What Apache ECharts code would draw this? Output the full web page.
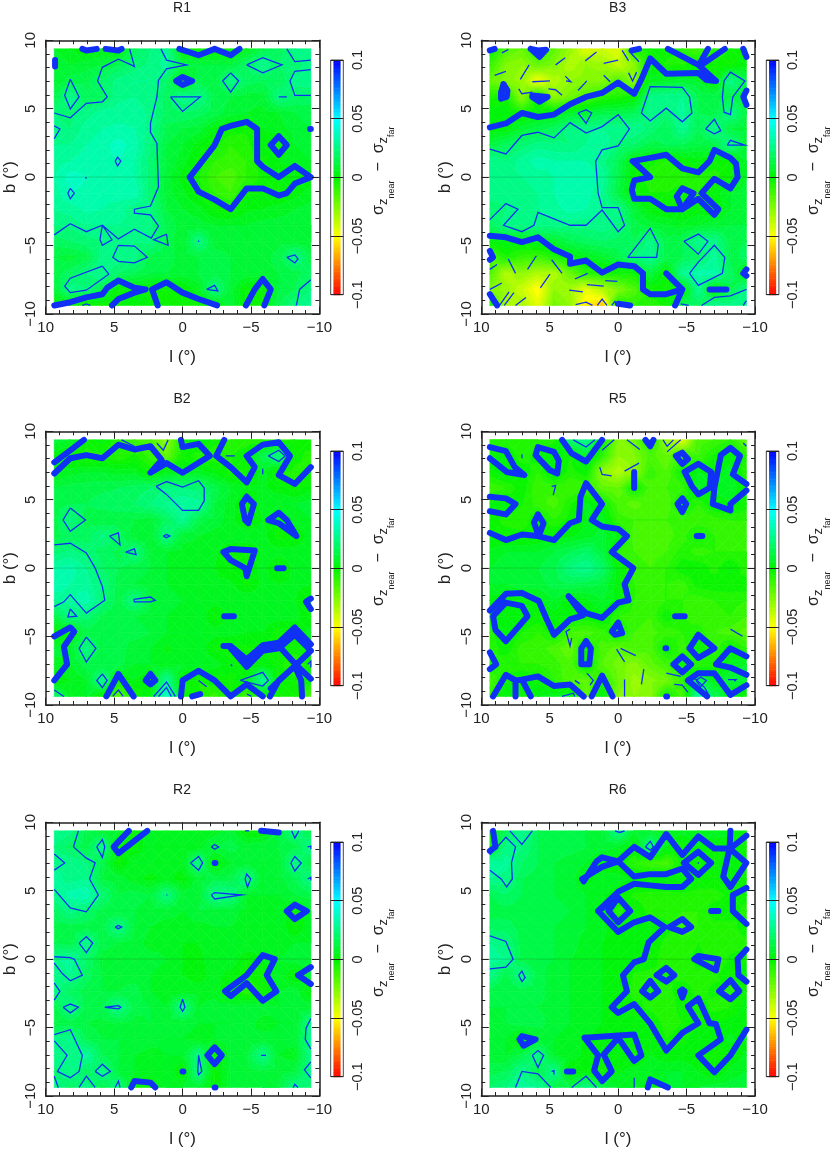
<!DOCTYPE html>
<html>
<head>
<meta charset="utf-8">
<title>sigma z near - far maps</title>
<script src="https://cdn.jsdelivr.net/npm/echarts@6/dist/echarts.min.js"></script>
<style>
html, body { margin: 0; padding: 0; background: #fff; }
#main { width: 830px; height: 1149px; }
</style>
</head>
<body>
<div id="main"></div>
<script>
// values in units of 0.001, rows from b=+9.375 down to b=-9.375, columns from l=+9.375 to l=-9.375
var r1Grid = [
  [8,4,-1,4,-1,18,24,28,-2,-2,-2,-2,4,14,18,25,28],
  [10,8,10,12,16,22,25,30,14,12,12,12,20,28,20,22,26],
  [8,14,15,20,26,28,28,20,-2,14,12,27,18,16,16,26,28],
  [14,28,16,18,27,28,26,18,27,26,14,12,10,10,25,20,18],
  [24,22,26,30,30,30,27,18,20,18,14,10,8,6,8,12,14],
  [25,24,30,32,33,32,26,15,12,10,2,-2,-3,4,6,10,12],
  [28,28,32,34,38,34,24,12,8,2,-3,-8,-6,3,-4,8,10],
  [30,32,34,34,36,32,22,12,6,-1,-8,-10,-8,-1,4,6,8],
  [32,38,36,34,34,32,22,10,2,-4,-12,-15,-8,-3,0,2,0],
  [30,36,35,32,34,35,22,10,5,-2,-8,-12,-1,0,-1,2,6],
  [28,30,33,32,30,25,24,12,8,6,-1,-3,3,4,6,8,10],
  [24,25,28,28,28,28,25,15,10,10,8,8,8,10,10,10,8],
  [18,20,22,24,25,24,25,15,8,25,10,10,8,10,10,10,8],
  [12,10,14,26,26,26,14,14,10,12,14,12,10,10,14,26,14],
  [14,18,24,28,20,16,12,12,10,12,14,12,10,10,12,14,18],
  [10,26,24,14,-1,-1,-1,-3,-1,6,25,10,-1,-2,12,16,24],
  [-1,-2,-4,-2,-1,4,0,-4,-3,-1,0,10,-1,-1,16,24,28]
];
var b3Grid = [
  [0,-15,-20,-2,-18,-30,-45,-40,-45,-5,-2,-1,-8,-12,-8,-3,1],
  [-10,-25,-28,-20,-25,-35,-28,-30,-38,-28,2,-5,-5,0,-3,-2,2],
  [-20,-26,-30,-48,-35,-28,-26,-25,-15,-28,6,8,10,8,-1,27,14],
  [-5,-3,-28,0,-28,-22,-15,-8,-5,-2,26,27,28,15,14,14,10],
  [3,3,-4,1,2,8,10,14,14,16,28,22,30,16,14,26,12],
  [1,1,10,14,18,26,27,28,28,28,22,16,28,16,27,12,10],
  [12,18,22,26,25,24,28,32,22,20,14,16,16,12,14,27,10],
  [28,24,30,34,32,32,32,26,16,0,-3,-6,-1,2,-2,-2,8],
  [28,28,28,30,32,34,36,30,14,0,-6,-6,-6,-6,-6,-1,8],
  [26,24,26,28,32,36,34,28,12,-1,-4,-4,-2,-6,2,8,10],
  [22,24,26,28,30,34,32,27,26,10,1,-1,-2,2,-2,8,10],
  [18,26,25,26,26,25,25,27,24,14,10,8,6,8,10,12,12],
  [1,4,2,6,8,15,18,20,18,16,26,14,16,28,26,14,16],
  [-15,-5,-10,-12,-6,0,4,8,14,24,28,14,16,18,30,14,18],
  [-15,-35,-28,-35,-35,-20,-8,-5,-3,-2,12,-2,28,34,33,18,0],
  [-25,-30,-40,-52,-28,-32,-45,-35,-25,-15,-2,-2,-2,28,-2,15,26],
  [-2,-35,-32,-45,-22,-28,-55,-62,-3,-8,-6,-3,16,18,28,26,28]
];
var b2Grid = [
  [10,8,-2,2,-8,-12,-15,-28,-2,4,-2,-8,-8,-8,-6,-4,0],
  [2,-2,-6,-5,-8,-3,-10,-20,-2,-6,-8,-4,1,15,26,-2,-6],
  [2,6,8,8,6,6,-2,4,5,6,2,-5,-4,6,-4,-6,-4],
  [12,14,14,15,16,18,20,25,24,22,14,8,4,5,2,-2,2],
  [14,16,16,18,18,20,24,28,32,30,12,6,-2,6,8,8,10],
  [14,25,14,12,14,12,10,18,28,14,10,6,-2,4,0,6,8],
  [14,18,18,25,18,10,8,25,10,8,6,8,8,6,-2,0,6],
  [22,25,22,18,15,25,10,8,6,6,5,-1,-2,5,6,6,6],
  [32,34,28,20,16,14,12,8,6,6,4,0,0,6,-1,5,6],
  [36,32,30,24,14,12,10,8,6,6,5,5,-1,5,4,5,4],
  [28,30,35,22,14,25,12,10,8,8,6,6,8,6,5,4,0],
  [14,25,22,15,14,12,10,8,6,8,-1,6,6,6,6,6,-1],
  [-1,-1,14,12,12,14,12,8,8,8,6,6,4,4,-2,-2,6],
  [10,8,26,12,14,10,8,3,6,8,-1,-2,-1,-2,-2,-1,-2],
  [6,8,14,12,14,8,8,6,8,8,6,1,-2,2,-2,-10,-1],
  [-1,4,8,28,-2,4,-1,28,-1,-4,-2,-1,4,30,-3,-2,-1],
  [22,6,8,-2,-18,-4,4,40,-2,-4,-10,-1,-12,-2,-3,-2,-14]
];
var r5Grid = [
  [-8,-8,-8,-8,-6,22,28,-1,-25,-22,-2,-30,-45,-14,-12,-8,-20],
  [-1,2,-8,-1,4,-4,8,-8,-28,-25,-14,-20,-10,-12,-3,2,-5],
  [-1,4,1,-8,4,-6,-1,-28,-35,-28,-10,-16,-1,4,2,6,-8],
  [-12,-8,-1,-12,-10,-12,-12,-18,-20,-1,-14,-12,-10,8,5,8,-2],
  [1,3,-4,-10,-14,-5,5,-1,-14,-18,-14,-16,0,-8,1,3,-2],
  [-1,-6,-8,1,-8,-2,4,6,-10,-12,-12,-12,-10,-12,-10,-8,-8],
  [-1,-1,-2,0,1,3,6,10,3,-14,-16,-14,-10,-1,-8,-10,-10],
  [5,8,8,8,12,16,20,12,-8,-12,-14,-12,-6,-10,-8,-8,-8],
  [8,10,10,12,15,24,28,20,2,-10,-12,-8,-1,0,-6,1,-8],
  [8,8,10,10,14,16,14,12,1,-8,-10,-8,-10,-2,-1,-2,-1],
  [2,1,3,2,8,0,3,8,2,-8,-10,-8,-8,-10,-8,-6,-8],
  [1,3,2,-1,2,0,-1,2,-8,-10,-12,-1,-8,-10,-10,-8,-12],
  [-6,3,-4,-8,-1,-12,-14,-10,-1,-12,-14,-10,-8,-6,-12,-14,-18],
  [-8,-1,-10,-10,-14,-20,-1,-14,-18,-14,-14,-1,-10,1,-10,0,-8],
  [-1,-8,-8,-8,-10,-15,2,-16,-22,-26,-18,-12,-1,-8,-6,6,8],
  [-14,-1,2,-1,-8,-16,-18,-6,-20,-30,-26,-22,-10,18,2,12,8],
  [-10,4,-2,4,6,8,-22,4,-25,-28,-26,-1,-14,32,16,2,-1]
];
var r2Grid = [
  [28,26,14,10,8,-1,8,6,8,6,6,10,-1,-1,12,26,14],
  [24,18,14,27,-1,-1,8,6,4,6,12,14,10,12,12,14,26],
  [26,28,24,14,-1,8,8,6,6,26,-1,8,10,8,10,26,12],
  [30,26,28,12,10,6,2,6,1,10,14,14,25,8,10,16,26],
  [26,34,36,22,12,14,12,25,10,10,27,26,8,8,8,12,14],
  [18,26,20,14,12,12,10,10,8,12,10,10,6,6,8,-2,8],
  [14,14,14,14,26,12,8,6,6,6,8,8,6,6,8,-1,8],
  [16,14,27,14,12,10,6,6,4,4,6,8,8,6,6,8,8],
  [27,30,20,10,8,10,10,8,4,3,6,8,0,4,8,10,12],
  [24,28,18,12,10,10,8,6,4,2,6,2,-3,-2,8,-1,10],
  [26,18,14,12,12,14,8,4,6,6,6,-1,-8,-3,8,10,0],
  [14,26,14,16,26,14,12,8,26,8,10,10,12,10,8,10,10],
  [12,14,12,10,12,10,12,10,10,8,8,8,10,6,8,8,26],
  [26,28,16,12,12,12,10,8,8,6,8,10,8,10,8,10,27],
  [28,26,30,16,12,8,6,8,8,25,-3,10,12,26,8,6,26],
  [22,28,18,26,12,8,6,8,-1,26,-1,10,10,12,10,12,26],
  [26,18,26,14,26,-1,-1,8,8,10,-1,10,10,12,12,26,20]
];
var r6Grid = [
  [-2,18,28,16,14,14,12,10,26,8,8,6,6,6,8,6,-1],
  [-1,26,24,16,14,14,12,10,8,0,26,4,-3,4,-2,0,-1],
  [30,30,20,16,12,10,8,1,0,-8,-12,-14,-2,-3,-1,3,-4],
  [28,26,16,14,12,10,2,6,6,3,3,3,2,-1,-1,3,-2],
  [16,20,16,14,12,10,8,5,1,-5,-6,-6,-5,-6,-6,-3,-2],
  [14,14,14,14,14,12,8,3,-6,0,-6,-8,-8,-8,-1,-1,-6],
  [18,18,14,12,12,10,8,5,1,2,2,-1,-12,-8,-6,-6,-1],
  [28,24,14,14,12,10,6,4,3,3,1,-6,-6,-4,-6,-6,-6],
  [30,28,14,12,12,8,6,4,3,2,-1,-8,-8,-2,-8,-3,-1],
  [26,14,26,14,10,8,6,4,3,-5,-6,-2,-6,-5,-5,-1,2],
  [14,12,14,14,10,8,6,4,2,-6,-2,-6,-1,-6,-3,-6,-2],
  [12,12,12,12,10,8,6,4,2,-3,-5,-8,-2,-1,-6,-4,3],
  [10,12,14,14,10,8,6,4,3,2,0,-6,-4,-1,0,2,2],
  [8,8,-2,8,8,6,3,3,4,3,3,-4,-1,3,1,5,1],
  [10,8,14,26,8,6,3,0,4,-3,4,1,2,0,-3,0,5],
  [14,16,27,14,27,-1,2,-5,3,6,8,8,8,4,-1,6,8],
  [20,24,30,28,14,14,26,14,8,8,-1,8,8,8,10,10,10]
];

// contours, vertices in grid steps [column, row] from l=+9.375, b=-9.375
var r1Thick = [
  [[0,0],[1,.2],[2,.5],[3,.7],[3.3,1.1],[4,1.55],[5,1.1],[5.7,1],[5,.8],[4,.4],[3.6,0]],
  [[6.45,0],[6.1,1],[7,1.45],[8,.8],[9,.4],[10.15,0]],
  [[11.95,0],[12.5,1],[13,1.65],[13.5,1],[13.1,0]],
  [[8.45,8],[10,10],[10.45,11],[11,11.2],[12,11.45],[12.65,11],[12.65,9],[13,8.65],[14,8],[15,8.7],[16,8],[15,7.6],[14.5,7],[14,6.85],[13,7.3],[12,7.3],[11,6],[10,6.6],[9,7.1],[8.45,8]],
  [[13.5,10],[14,10.55],[14.5,10],[14,9.4],[13.5,10]],
  [[7.8,16],[9,15.6],[10,16],[11,15.6],[11.55,16]],
  [[1.75,16],[2,15.9],[2.65,16]],
  [[3.2,16],[4,15.9],[4.2,16]],
  [[.05,15.3],[.05,14.9]],
  [[7.6,14],[8,14.25],[8.6,14],[8,13.75],[7.6,14]],
  [[15.95,11],[16,11]]
];
var r1Thin = [
  [[6.65,16],[7,15.3],[8.25,15],[7,14.75],[6.5,14.05],[6.4,13],[6,11.35],[6,10.8],[6.4,10.1],[6.5,7.4],[6,6.2],[5,6],[5,5.75],[6,5.65],[6.5,4.95],[6.05,4.2],[5,4.75],[4,4.15],[3,5],[2,4.6],[1,5.1],[0,4.4]],
  [[0,12],[1,11.7],[2,12.6],[3,12.7],[3.3,13],[2.7,14],[3,14.85],[4,15.35],[4.8,15],[5,14.9],[4.7,16]],
  [[1,14.1],[1.55,13],[1,12.25],[.65,13.1],[1,14.1]],
  [[7.25,13],[9.1,13],[8,12.1],[7.25,13]],
  [[11,14.5],[11.5,14],[11,13.3],[10.5,14],[11,14.5]],
  [[12,15],[13,15.45],[14.2,15],[13,14.5],[12,15]],
  [[14.5,16],[15,15.2],[16,15.3]],
  [[16,14.7],[15,14.6],[14.7,14],[15,13.1],[16,13.1]],
  [[14,13],[14.5,13]],
  [[0,11.2],[.35,11],[0,10.4]],
  [[3.8,9],[3.95,9.25],[4.15,9],[3.95,8.7],[3.8,9]],
  [[1.95,8],[2,8.1],[2.05,8],[2,7.9],[1.95,8]],
  [[1,7.3],[1.25,7],[1,6.65],[.85,7],[1,7.3]],
  [[3,5],[3.6,4.1],[3,3.75],[2.85,4.1],[3,5]],
  [[7,4.45],[7.1,3.75],[6.2,4.1],[7,4.45]],
  [[9,4.05],[9.05,4],[9,3.95],[8.95,4],[9,4.05]],
  [[4,3.75],[5,3.7],[5.8,3],[5,2.65],[4,2.75],[3.65,3],[4,3.75]],
  [[3,2.45],[3.4,1.95],[2,.95],[1,.8],[.65,1.2],[1,1.7],[3,2.45]],
  [[9.5,1],[10,1.25],[10.2,.9],[9.5,1]],
  [[14.5,3],[15,3.15],[15.2,2.9],[15,2.65],[14.5,3]],
  [[16,1.6],[15.3,1],[15.1,0]],
  [[1.75,0],[2,.1],[2.25,0]]
];

var b3Thick = [
  [[0,11.1],[1,11.35],[2,12],[3,11.75],[4,11.9],[5,12.55],[6,13],[7,13.25],[8,13.9],[9,13.2],[9.45,14.1],[10,15.4],[11,14.45],[13,14.5],[13.5,14.05],[14.1,14]],
  [[11.1,16],[13,15],[14.1,14]],
  [[13.6,16],[13.1,15.1]],
  [[14.65,16],[13.2,15]],
  [[0,4.35],[1,4.25],[2,3.95],[3,4.25],[4,3.5],[5,3.05],[5,2.6],[6,2.8],[7,2.05],[8,2.55],[9,2.45],[9.55,2],[9.55,1],[10,.7],[11,.7],[12,1],[11,2]],
  [[12,1],[11.55,0]],
  [[8.9,9],[10,9.2],[11,9.4],[12,8.55],[13,8.3],[13.7,9],[14,9.7],[15,9.2],[15.35,8.85],[15.45,8],[15,7.3],[14,7.9],[13.2,7],[14.25,6],[14,5.65],[13,6.65],[12,6],[11,6],[10,6.65],[9,6.65],[8.85,7.2],[9,7.8],[10,8],[9.3,8.65],[8.9,9]],
  [[12,6],[11.65,6.8],[12,7.3],[12.7,7],[12,6]],
  [[.85,13.8],[1.1,13.4],[1.05,13],[.7,12.9],[.7,13.3],[.85,13.8]],
  [[2.65,13.1],[3.6,13],[3.1,12.7],[2.65,13]],
  [[2.55,16],[3.1,15.5],[3.5,15.95],[3,15.9],[2.55,16]],
  [[0,15.9],[.3,16]],
  [[8.85,15.9],[9.3,16]],
  [[15.8,16],[16,15.5]],
  [[16,13.4],[15.8,13],[16,12.5]],
  [[0,3.4],[.2,3],[0,2.85]],
  [[16,2.25],[15.8,2],[16,1.85]],
  [[0,.7],[.45,0]],
  [[13.7,1],[14.75,1]],
  [[8,.1],[8.75,0]]
];
var b3Thin = [
  [[0,9.75],[1,9.45],[2,10.6],[3,10.8],[4,10.45],[5,11.4],[6,10.75],[7,11.15],[8,11.9],[8.7,11],[8,9.95],[7,9.7],[6.6,9],[6.75,7],[7,6.1],[8,6.1],[8.4,5],[8,4.6],[7,5.95],[6,5],[5,5],[4,5.4],[3,5.8],[2.75,5],[2,4.6],[.85,5],[1.75,6],[1,6.35],[0,5.35]],
  [[5.5,12],[6,12.2],[6.35,12],[6,11.35],[5.5,12]],
  [[10,13.65],[12,13.6],[12.45,13],[12.6,12],[12,11.45],[11,12.3],[10,11.5],[9.45,12],[10,13.65]],
  [[14.6,14],[15,14.55],[15.9,14],[15.15,13],[15,11.9],[14.6,12.05],[14.5,13],[14.6,14]],
  [[13.45,11],[14,11.6],[14.4,10.9],[14,10.7],[13.45,11]],
  [[14.8,10],[15,10.3],[15.9,10],[14.8,10]],
  [[8.6,3],[10,4.8],[10.5,3.8],[10.4,3],[8.6,3]],
  [[12.1,4],[13,4.45],[13.6,4],[13,3.2],[12.1,4]],
  [[12.45,2],[13,2.7],[14,3.75],[14.65,3],[14.5,2],[13,1.25],[12.45,2]],
  [[13.2,0],[14,.5],[15,.6],[16,1]],
  [[15.8,0],[16,.3]],
  [[11.9,.1],[12.4,0]],
  [[.3,14.35],[1,14.6]],
  [[.75,15.75],[1.15,15.95]],
  [[1.9,14.1],[2.45,15]],
  [[2.65,13.95],[3.75,14]],
  [[4.7,14.3],[5.05,13.95],[4.75,14]],
  [[4.1,15],[4.7,15.45]],
  [[1.8,13.5],[2,13.2],[2.65,13.3]],
  [[3.65,13.5],[4.1,13.45],[4.5,13.1]],
  [[5.95,15.25],[6.65,15.8]],
  [[7.1,15.1],[8,15.3]],
  [[5.5,13.4],[6.05,14]],
  [[7.1,14.35],[7.5,13.95]],
  [[8.65,14.5],[8.9,14],[9.15,14.55]],
  [[8.25,15.9],[8.65,15.25]],
  [[8.65,15.9],[9.3,15.2]],
  [[0,2.25],[.45,2.55]],
  [[1.15,2.9],[1.6,2]],
  [[2.35,2.25],[2.9,3.1]],
  [[3.85,2.85],[4.5,2]],
  [[3.15,1.1],[3.75,1.95]],
  [[0,1],[.75,1.4]],
  [[.6,0],[1.2,.85]],
  [[.9,0],[1.5,.8]],
  [[1.6,0],[2.25,.5]],
  [[5.3,1.65],[6.1,2]],
  [[6.05,1.3],[7.1,1.2]],
  [[7.2,1.55],[7.95,1.5]],
  [[4.95,.95],[5.8,.85]],
  [[5.35,.05],[6,.2],[6.4,0]],
  [[6.7,0],[7,.4],[7.3,0]],
  [[7.6,0],[7.8,.25],[7.95,0]]
];

var b2Thick = [
  [[0,13.9],[1,14.85],[2,15.05],[3,14.85],[4,15.7],[5,15.4],[6,15.6],[6.7,14.75],[6,13.95],[7,14.55],[8,13.95],[9.7,15],[9,15.75],[8,15.55],[7.9,16]],
  [[0,14.6],[1,15.35],[1.85,16]],
  [[10.6,16],[10.1,15],[11,14.3],[12,13.35],[12.5,14.3],[12,15],[13,15.7],[14,15.85],[14.7,15],[14,13.8],[15,13.25],[16,14.3]],
  [[0,3.75],[1,4.3],[1.25,4.05],[.6,3.1],[.8,2],[0,1]],
  [[3.25,0],[4,1.4],[4.95,0]],
  [[6,1.4],[6.3,1],[6,.75],[5.7,1],[6,1.4]],
  [[7.9,0],[8,1],[9,1.6],[10,1],[11,0],[12,.75],[13,0]],
  [[8.6,0],[9.1,.15]],
  [[10.55,3.15],[11,3.15],[12,2.3],[13,3.2],[14,3.35],[15,4.3],[16,3.25]],
  [[11,3],[12,1.85],[13,2.85],[14,3],[15,3.85],[16,2.85]],
  [[16,2.85],[15,1.9],[14,1],[13.45,0]],
  [[16,1.1],[15,2.05],[14.05,3.1]],
  [[15,1.9],[15.4,1],[15.45,0]],
  [[15,1.9],[13.5,.5]],
  [[12,12.45],[12.45,12],[12.1,10.8],[11.9,11],[11.7,12],[12,12.45]],
  [[13.35,11],[14,11.45],[14.5,11],[15.1,10],[14,10.8],[13.35,11]],
  [[10.55,9],[11,9.2],[12.5,9.1],[12,7.5],[11.9,8],[11,8.5],[10.55,9]],
  [[13.9,8],[14.3,8]],
  [[16,6.1],[15.7,5.9],[16,5.45]],
  [[10.6,5],[11.2,5]]
];
var b2Thin = [
  [[0,9.45],[1,9.55],[2,8.95],[2.55,8],[3,6.85],[3.15,6],[2,5.2],[1,6.35],[.6,5.9],[0,5.6]],
  [[1,11.75],[1.95,11],[1,10.3],[.55,11],[1,11.75]],
  [[3.45,10],[4,10.2],[4.1,9.45],[3.45,10]],
  [[4.45,9],[5,9.2],[5.1,8.85],[4.45,9]],
  [[6.8,10],[7,10.1],[7.2,10],[7,9.9],[6.8,10]],
  [[6.35,13.1],[7,13.4],[8,13.05],[9,13.45],[9.35,13],[9.35,12.2],[9,11.6],[8,11.6],[7,12.6],[6.35,13.1]],
  [[4.95,6.05],[6,6.2],[6.3,6],[6,5.9],[5,5.9],[4.95,6.05]],
  [[1,5.45],[1.4,5],[.85,4.95],[1,5.45]],
  [[2,3.7],[2.6,3],[2,2.15],[1.55,3],[2,3.7]],
  [[3,1.4],[3.3,1],[3,.55],[2.65,1],[3,1.4]],
  [[0,.4],[.6,0]],
  [[3.65,0],[4,.4],[4.3,0]],
  [[6.2,0],[7,.9],[7.55,0]],
  [[6.5,0],[7,.55],[7.3,0]],
  [[9,1],[9.5,.6]],
  [[11.6,1],[13,1.5],[13.35,1],[13,.65],[11.6,1]],
  [[13.35,15],[14,15.35],[14.4,15],[14,14.65],[13.35,15]],
  [[10.7,15],[11.25,15]],
  [[4.2,16],[5,15.6]],
  [[6.4,15.8],[6.8,15.35],[7.1,16]],
  [[13,14.2],[13,13.85]],
  [[11,2],[11.1,1.9]],
  [[15.8,2],[16,2.2],[16,1.8]],
  [[12,.15],[12.3,0]]
];

var r5Thick = [
  [[0,15.55],[1,15.3],[1.55,14.3],[2.15,13.8],[1.05,14],[0,14.85]],
  [[3,15.55],[4,15.25],[4.3,14.7],[4.2,13.9],[3.75,14.1],[2.85,15.05],[3,15.55]],
  [[4.5,16],[5.1,15.15],[6,14.65],[7,16]],
  [[9,14],[9,13]],
  [[9.7,16],[10,15.6],[10.2,16]],
  [[11.6,15],[12,15.2],[12.35,14.8],[12,14.5],[11.6,15]],
  [[12.15,14],[13,14.5],[13.8,14],[13.7,13],[13,12.6],[12.6,13.1],[12.15,14]],
  [[16,13.25],[15.15,13.85],[15.6,15],[15,15.5],[14.4,15.05],[14,13],[13.9,12],[15,11.6],[15,12],[16,12.85]],
  [[12,12.35],[12.25,12],[12,11.5],[11.7,12],[12,12.35]],
  [[12.9,10],[13.25,10]],
  [[0,12.45],[1,12.35],[1.6,12],[1,11.35],[0,11.55]],
  [[0,10.2],[1,9.75],[2,10.1],[3,10],[4,9.75],[5,10.8],[5.55,11],[5.65,12.45],[6,13.3],[6.35,12.85],[7,12],[6.35,11],[7,10.6],[8,10.45],[8.55,10],[7.6,9],[8.95,8],[8.4,7],[8.65,6],[8,5.85],[7,4.9],[6,5.2],[4.9,6.25],[5.8,5.05],[5,4.8],[4,3.85],[3.55,4.8],[3.05,5.95],[2,6.45],[1,6.4],[0,5.35]],
  [[3,11.35],[3.35,10.8],[3.05,10],[2.75,10.85],[3,11.35]],
  [[1,5.85],[2,5.65],[2.35,5],[1,3.45],[.35,4.15],[.2,5],[1,5.85]],
  [[8,4.6],[8.25,3.95],[7.8,3.85],[7.6,4.05],[8,4.6]],
  [[11.55,5],[12.15,5]],
  [[10.95,3],[11,3]],
  [[12.45,3],[13,3.85],[14,3],[13,2.4],[12.45,3]],
  [[11.45,2],[12,2.5],[12.55,2],[12,1.5],[11.45,2]],
  [[16,2.5],[15,3],[14.1,2],[15,1.8],[16,1.35]],
  [[12.35,1],[13,1.45],[14,1.45],[15,.1],[16,.7]],
  [[12.35,1],[13.55,0]],
  [[0,2.75],[.4,2],[0,1.7]],
  [[.2,0],[1,1.35],[1.6,1],[1.6,0]],
  [[1.6,1],[2,1.05],[2.55,0]],
  [[2,1.05],[3,1.25],[4,.65],[5,.75],[5.85,0]],
  [[6.35,0],[7,1.3],[7.65,0]],
  [[6,3.45],[6.3,3],[6.2,2],[5.7,2],[5.7,3],[6,3.45]],
  [[11,0],[11.05,0]]
];
var r5Thin = [
  [[5.2,16],[6,15.55],[6.55,16]],
  [[7,15.35],[7.75,16]],
  [[8.55,16],[9.35,15.4]],
  [[10.8,16],[11.05,15.6],[11.45,16]],
  [[11.05,15.25],[11.9,16]],
  [[6.85,14.3],[7,13.85],[7.6,13.75]],
  [[8.4,14.05],[9.3,14.55]],
  [[3.85,13.1],[4.1,13.15],[3.95,12.55]],
  [[2,15.1],[2,14.85]],
  [[15.8,15.8],[16,15.6]],
  [[15,4.2],[15.75,3.75]],
  [[5,4.2],[4.75,4.05],[5,3.15],[5.1,3.65]],
  [[7.9,2.95],[8.4,2.15]],
  [[8.15,3],[9.1,2.55]],
  [[9.6,1.7],[9.45,.75]],
  [[8.4,1.05],[8.4,0]],
  [[6.05,1.45],[6.45,1],[6.25,.7]],
  [[5.3,1],[5.6,.8]],
  [[11,1.45],[11.9,1.25]],
  [[11.5,.75],[12,.7],[12.35,.25]],
  [[12.65,1.25],[13.4,.55],[13.7,0]],
  [[14.85,1.05],[15.35,1.05],[15.25,.95]],
  [[4.5,0],[5.2,.2],[5.3,0]],
  [[12.85,1],[13.15,1.2],[13.5,1],[13.15,.6],[12.85,1]]
];

var r2Thick = [
  [[4.65,16],[3.7,15],[4,14.6],[5.8,16]],
  [[12.9,16],[14,15.9]],
  [[10,14],[10.05,14]],
  [[14.5,11],[15,11.4],[15.75,11],[15,10.5],[14.5,11]],
  [[16,7.5],[15.2,7],[16,6.45]],
  [[10.65,6],[12,7],[13,8.25],[13.75,8],[13.25,7],[13.85,6],[13,5.4],[12,6.5],[11,5.7],[10.65,6]],
  [[9.55,2],[10,2.5],[10.45,2],[10,1.45],[9.55,2]],
  [[8,1],[8.05,1]],
  [[10,0],[10.05,0]],
  [[4.8,0],[5,.4],[6,.3],[6.3,0]]
];
var r2Thin = [
  [[1.5,16],[1.2,15],[2,14.3],[2.55,14],[2.2,13],[2.75,12],[2,10.95],[1,11.2],[0,12.35]],
  [[0,14.55],[.65,14],[0,13.55]],
  [[2.65,15],[3,15.45],[3.15,15],[3,14.35],[2.65,15]],
  [[1.55,9],[2,9.4],[2.4,9],[2,8.4],[1.55,9]],
  [[3.8,10],[4,10.1],[4.2,10],[4,9.9],[3.8,10]],
  [[0,8.15],[1,8.1],[1.25,8],[1.75,7],[1,6.65],[.5,7.1],[0,7.75]],
  [[0,6.5],[.35,6],[0,5.45]],
  [[.55,5],[1,5.2],[1.5,5],[1,4.65],[.55,5]],
  [[3.15,5],[4,5.1],[4.15,5],[4,4.9],[3.15,5]],
  [[8,5.5],[8.15,5],[8,4.75],[7.85,5],[8,5.5]],
  [[0,3.3],[1,3.6],[1.75,2],[1.55,1],[1,.6],[.2,1],[.8,2],[0,2.9]],
  [[2.55,1],[3,1.45],[3.5,1],[3,.7],[2.55,1]],
  [[1.55,0],[2,.7],[2.55,0]],
  [[0,.7],[.25,0]],
  [[3.8,0],[4,.4],[4.1,0]],
  [[9,2],[9.2,1],[9,.8],[8.95,1],[9,2]],
  [[12.9,2],[13.2,2]],
  [[9.8,12],[10,12.15],[11.7,12],[10,11.75],[9.8,12]],
  [[11.9,13],[12,13.3],[12.25,13],[12.05,12.5],[11.9,13]],
  [[8.5,14],[9,14.4],[9.25,14],[9,13.55],[8.5,14]],
  [[9.8,15],[10,15.15],[10.25,15],[10,14.85],[9.8,15]],
  [[11.9,16],[12,15.9],[12.15,16]],
  [[14.8,16],[15,15.55],[15.25,16]],
  [[14.75,14],[15,14.4],[15.4,14],[15,13.5],[14.75,14]],
  [[15.8,15],[16,15.05],[16,14.85]],
  [[15.8,13],[16,13.1],[16,12.9]],
  [[16,4.3],[15.7,3.7],[15.65,3],[16,2.4]],
  [[16,1.6],[15.6,1.1],[16,.6]],
  [[14.9,0],[15,.2],[15.2,0]],
  [[7,12],[7.05,12]]
];

var r6Thick = [
  [[.2,16],[.35,15],[0,14.75]],
  [[5.85,12.85],[6.65,14.1],[7,14.35],[8,14.1],[9,15],[10,14.35],[11,15.8],[12,14.5],[13,15.65],[14,14.9],[15,14.9],[16,15.7]],
  [[5.75,13],[7,13.75],[8,14.1]],
  [[8,14.1],[9,13.15],[10,13.3],[11,13.3],[12,13.65],[12.55,13],[12,12.5],[11,12.5],[10,12.6],[9,12.7],[8,12.2],[6.75,11],[8,9.7],[9,10.3],[10,10.6],[10.9,10],[9.9,9.05],[9.6,8],[9,7.8],[8.3,7],[8.55,6],[7.6,5],[8,4.65],[9,5.2],[10,4],[11,2.3],[12,3.4],[13,4],[12.35,5.05],[13,5.55],[13.7,4],[14.1,3.95],[14.4,3],[13,2],[14,.95],[15,2],[16,3.6]],
  [[8,11.85],[8.75,11],[8,10.3],[7.4,11],[8,11.85]],
  [[6.75,11],[8,11.85]],
  [[9.5,6],[10,6.65],[10.5,6],[10,5.6],[9.5,6]],
  [[10.4,7],[11,7.45],[11.5,7],[11,6.6],[10.4,7]],
  [[11.2,10],[12,10.5],[12.55,10],[12,9.7],[11.2,10]],
  [[12,6.1],[12.15,6],[12,5.6],[11.85,6],[12,6.1]],
  [[13.8,11],[14.25,11]],
  [[12.1,14],[13,14.7],[13.8,14],[13,13.25],[12.1,14]],
  [[15,16],[14.95,14.9],[14.55,13.15],[15,12.5],[16,14],[14.95,14.9]],
  [[16,12.45],[15.15,12],[15.15,11],[16,10.2]],
  [[12.75,8],[13,8.2],[14.25,8],[14.1,7.3],[12.75,8]],
  [[16,8.6],[15.45,8],[15.5,7],[16,6.6]],
  [[14.3,6],[15,6.7],[15.55,6],[15,5.5],[14.3,6]],
  [[1.85,3],[2,3.2],[2.85,3],[2.1,2.6],[1.85,3]],
  [[4.8,1],[5.2,1]],
  [[5.9,3.1],[9,3.3],[9.45,2],[9,1.65],[8,3.1],[7.1,2.05],[7.6,1],[7,.4],[6.5,1.05],[6.75,2],[5.9,3.1]],
  [[9.85,0],[10,.5],[11.1,0]]
];
var r6Thin = [
  [[1.25,16],[2,15.15],[2.65,16]],
  [[0,14.5],[1,15.6],[1.6,15],[1.35,14],[1.4,13],[1.05,12.5],[.7,13],[0,13.55]],
  [[0,9.45],[1,9.1],[1.45,8],[1,7.5],[0,7.4]],
  [[1.8,7],[2,7.25],[2.2,6.85],[2,6.6],[1.8,7]],
  [[2.65,2],[3,2.3],[3.35,2],[3,1.25],[2.65,2]],
  [[1.6,0],[2,1],[3,.85],[3.8,0]],
  [[3.85,1],[4,1.05],[4,.8]],
  [[5.1,0],[6,.7],[6.65,0]],
  [[9,.6],[9,0]],
  [[9.7,15],[10,15.35],[10.2,15],[10,14.8],[9.7,15]],
  [[7.8,16],[8.1,15.9],[8.4,16]],
  [[13,14.05],[13,13.95]]
];

var panelNames = ['R1', 'B3', 'B2', 'R5', 'R2', 'R6'];
var panelGrids = [r1Grid, b3Grid, b2Grid, r5Grid, r2Grid, r6Grid];
var panelThick = [r1Thick, b3Thick, b2Thick, r5Thick, r2Thick, r6Thick];
var panelThin = [r1Thin, b3Thin, b2Thin, r5Thin, r2Thin, r6Thin];

// colour scale of the bar
var colorTicks = [-0.1, -0.05, 0, 0.05, 0.1];
var colorStops = [[255, 0, 0], [255, 255, 0], [0, 245, 0], [0, 255, 255], [0, 0, 255]];

var frameLeft = [45.7, 481.3];
var frameTop = [40.3, 431.3, 822.3];
var frameSize = 273.7;
var FONT = '"Liberation Sans", Arial, sans-serif';
var BLUE = '#1030f5';
var DARK = '#222';
var step = 18.75 / 16;

function colorOf(v) {
  var k = Math.max(0, Math.min(3, Math.floor((v + 0.1) / 0.05)));
  var t = Math.max(0, Math.min(1, (v - colorTicks[k]) / 0.05));
  var a = colorStops[k], b = colorStops[k + 1];
  return 'rgb(' + Math.round(a[0] + (b[0] - a[0]) * t) + ',' + Math.round(a[1] + (b[1] - a[1]) * t) + ',' + Math.round(a[2] + (b[2] - a[2]) * t) + ')';
}

function minusText(v) {
  return v < 0 ? '\u2212' + Math.abs(v) : String(v);
}

function lOf(i) { return 9.375 - i * step; }
function bOf(j) { return -9.375 + j * step; }

// keep the part of a triangle where sign*(v-level) >= 0
function clipPoly(poly, level, sign) {
  var out = [];
  for (var n = 0; n < poly.length; n++) {
    var p = poly[n], q = poly[(n + 1) % poly.length];
    var dp = sign * (p[2] - level), dq = sign * (q[2] - level);
    if (dp >= 0) out.push(p);
    if ((dp >= 0) !== (dq >= 0)) {
      var t = dp / (dp - dq);
      out.push([p[0] + (q[0] - p[0]) * t, p[1] + (q[1] - p[1]) * t, level]);
    }
  }
  return out;
}

var bandStep = 0.004;

function renderCell(params, api) {
  var x0 = api.value(0), y0 = api.value(1), x1 = api.value(2), y1 = api.value(3);
  var c = [api.coord([x0, y0]), api.coord([x1, y0]), api.coord([x1, y1]), api.coord([x0, y1])];
  var corners = [
    [c[0][0], c[0][1], api.value(4)],
    [c[1][0], c[1][1], api.value(5)],
    [c[2][0], c[2][1], api.value(6)],
    [c[3][0], c[3][1], api.value(7)]
  ];
  var mid = [
    (c[0][0] + c[2][0]) / 2,
    (c[0][1] + c[2][1]) / 2,
    (corners[0][2] + corners[1][2] + corners[2][2] + corners[3][2]) / 4
  ];
  var children = [];
  for (var t = 0; t < 4; t++) {
    var tri = [corners[t], corners[(t + 1) % 4], mid];
    var vs = [tri[0][2], tri[1][2], tri[2][2]];
    var lo = Math.floor(Math.min.apply(null, vs) / bandStep - 1e-6);
    var hi = Math.ceil(Math.max.apply(null, vs) / bandStep + 1e-6);
    for (var k = lo; k < hi; k++) {
      var poly = clipPoly(clipPoly(tri, k * bandStep, 1), (k + 1) * bandStep, -1);
      if (poly.length < 3) continue;
      var col = colorOf((k + 0.5) * bandStep);
      children.push({
        type: 'polygon',
        shape: { points: poly.map(function (p) { return [p[0], p[1]]; }) },
        style: { fill: col, stroke: col, lineWidth: 0.6 }
      });
    }
  }
  return { type: 'group', children: children };
}

function renderBar(params, api) {
  var p0 = api.coord([api.value(0), api.value(1)]);
  var p1 = api.coord([api.value(2), api.value(3)]);
  return {
    type: 'rect',
    shape: { x: p0[0], y: p1[1], width: p1[0] - p0[0], height: p0[1] - p1[1] + 0.5 },
    style: { fill: colorOf((api.value(1) + api.value(3)) / 2) }
  };
}

function linesOf(polys) {
  var out = [];
  polys.forEach(function (line, n) {
    if (n) out.push(['-', '-']);
    line.forEach(function (p) { out.push([lOf(p[0]), bOf(p[1])]); });
  });
  return out;
}

function cellsOf(rows) {
  var cells = [];
  for (var r = 0; r < 16; r++) {
    for (var i = 0; i < 16; i++) {
      var j = 16 - r;
      cells.push([lOf(i), bOf(j - 1), lOf(i + 1), bOf(j),
        rows[r + 1][i] / 1000, rows[r + 1][i + 1] / 1000, rows[r][i + 1] / 1000, rows[r][i] / 1000]);
    }
  }
  return cells;
}

var barCells = [];
for (var n = 0; n < 100; n++) {
  barCells.push([0.22, -0.1 + n * 0.002, 0.78, -0.1 + (n + 1) * 0.002]);
}

var option = {
  animation: false,
  backgroundColor: '#fff',
  textStyle: { fontFamily: FONT },
  title: [],
  grid: [],
  xAxis: [],
  yAxis: [],
  series: []
};

function frameAxis(extra) {
  var base = {
    type: 'value',
    min: -10,
    max: 10,
    interval: 5,
    z: 5,
    splitLine: { show: false },
    axisLine: { show: true, onZero: false, lineStyle: { color: DARK, width: 1.5 } },
    axisTick: { show: true, inside: true, length: 7.5, lineStyle: { color: DARK, width: 1 } },
    minorTick: { show: true, splitNumber: 5, length: 4, lineStyle: { color: DARK, width: 1 } },
    axisLabel: { show: false }
  };
  for (var key in extra) base[key] = extra[key];
  return base;
}

var labelStyle = { show: true, color: DARK, fontSize: 15, fontFamily: FONT, formatter: minusText };

panelNames.forEach(function (name, p) {
  var col = p % 2, row = (p - col) / 2;
  var left = frameLeft[col], top = frameTop[row];
  var g = option.grid.length;

  option.title.push({
    text: name,
    left: left + frameSize / 2 - 0.5,
    top: top - 39,
    textAlign: 'center',
    padding: 0,
    textStyle: { fontSize: 14, fontWeight: 'normal', color: DARK, fontFamily: FONT }
  });

  option.grid.push({ left: left, top: top, width: frameSize, height: frameSize, outerBoundsMode: 'none' });
  var xa = option.xAxis.length, ya = option.yAxis.length;
  option.xAxis.push(frameAxis({
    gridIndex: g, position: 'bottom', inverse: true,
    axisLabel: Object.assign({}, labelStyle, { margin: 6 }),
    name: 'l (\u00b0)', nameLocation: 'middle', nameGap: 35,
    nameTextStyle: { color: DARK, fontSize: 17, fontFamily: FONT }
  }));
  option.xAxis.push(frameAxis({ gridIndex: g, position: 'top', inverse: true }));
  option.yAxis.push(frameAxis({
    gridIndex: g, position: 'left',
    axisLabel: Object.assign({}, labelStyle, { rotate: 90, margin: 7 }),
    name: 'b (\u00b0)', nameLocation: 'middle', nameRotate: 90, nameGap: 27,
    nameTextStyle: { color: DARK, fontSize: 17, fontFamily: FONT }
  }));
  option.yAxis.push(frameAxis({ gridIndex: g, position: 'right' }));

  option.series.push({
    type: 'custom',
    xAxisIndex: xa, yAxisIndex: ya,
    z: 1, silent: true, clip: false,
    renderItem: renderCell,
    encode: { x: [0, 2], y: [1, 3] },
    data: cellsOf(panelGrids[p])
  });
  option.series.push({
    type: 'line',
    xAxisIndex: xa, yAxisIndex: ya,
    z: 2, silent: true, showSymbol: false, clip: false,
    lineStyle: { color: 'rgba(0,90,0,0.3)', width: 0.8 },
    data: [[-10, 0], [10, 0]]
  });
  option.series.push({
    type: 'line',
    xAxisIndex: xa, yAxisIndex: ya,
    z: 3, silent: true, showSymbol: false, clip: false,
    lineStyle: { color: BLUE, width: 1.3, join: 'miter' },
    data: linesOf(panelThin[p])
  });
  option.series.push({
    type: 'line',
    xAxisIndex: xa, yAxisIndex: ya,
    z: 4, silent: true, showSymbol: false, clip: false,
    lineStyle: { color: BLUE, width: 6, cap: 'round', join: 'round' },
    data: linesOf(panelThick[p])
  });

  // colour bar
  var bg = option.grid.length;
  option.grid.push({
    left: left + 285, top: top + 19.7, width: 12.6, height: 234.7, outerBoundsMode: 'none',
    show: true, backgroundColor: '#fff', borderColor: '#444', borderWidth: 1
  });
  var bx = option.xAxis.length, by = option.yAxis.length;
  option.xAxis.push({ type: 'value', gridIndex: bg, min: 0, max: 1, show: false });
  option.yAxis.push({
    type: 'value', gridIndex: bg, position: 'right', min: -0.1, max: 0.1, interval: 0.05, z: 5,
    axisLine: { show: false },
    axisTick: { show: false },
    splitLine: { show: true, lineStyle: { color: DARK, width: 1 } },
    axisLabel: { show: true, rotate: 90, margin: 7, color: DARK, fontSize: 14.5, fontFamily: FONT, formatter: minusText },
    name: '{m|   }{s|\u03c3}{z|z}{n|near}{m|  \u2212  }{s|\u03c3}{z|z}{n|far}',
    nameLocation: 'middle', nameRotate: 90, nameGap: 27,
    nameTextStyle: {
      color: DARK,
      rich: {
        s: { fontSize: 16, fontFamily: FONT, color: DARK, verticalAlign: 'top', lineHeight: 26 },
        z: { fontSize: 13, fontFamily: FONT, color: DARK, verticalAlign: 'middle', lineHeight: 26 },
        n: { fontSize: 9, fontFamily: FONT, color: DARK, verticalAlign: 'bottom', lineHeight: 26 },
        m: { fontSize: 16, fontFamily: FONT, color: DARK, verticalAlign: 'top', lineHeight: 26 }
      }
    }
  });
  option.series.push({
    type: 'custom',
    xAxisIndex: bx, yAxisIndex: by,
    z: 1, silent: true,
    renderItem: renderBar,
    encode: { x: [0, 2], y: [1, 3] },
    data: barCells
  });
});

var chart = echarts.init(document.getElementById('main'), null, { renderer: 'canvas' });
chart.setOption(option);
</script>
</body>
</html>
